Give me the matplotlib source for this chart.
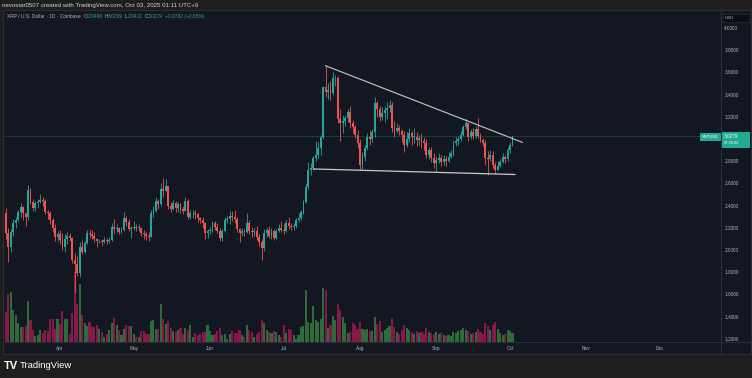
import numpy as np
import pandas as pd
import matplotlib
matplotlib.use("Agg")
from matplotlib import pyplot as plt
import matplotlib.dates as mdates
from matplotlib.patches import Rectangle
from matplotlib.lines import Line2D

plt.rcParams['font.family'] = ['Liberation Sans', 'DejaVu Sans']

## Data (XRP/USD daily) ##
start_date = '2025-03-10'
first_open = 2.33

closes_mar = [2.15, 2.03, 2.16, 2.24, 2.27, 2.34, 2.39, 2.33, 2.30, 2.54, 2.43, 2.38, 2.42, 2.43, 2.45, 2.44, 2.34, 2.33, 2.27, 2.20, 2.12, 2.14]
closes_apr = [2.09, 2.03, 2.10, 2.13, 2.11, 1.91, 1.87, 1.79, 2.03, 1.98, 2.06, 2.15, 2.14, 2.13, 2.10, 2.08, 2.08, 2.07, 2.09, 2.08, 2.09, 2.21, 2.19, 2.20, 2.16, 2.18, 2.29, 2.25, 2.19, 2.20]
closes_may = [2.21, 2.20, 2.20, 2.15, 2.14, 2.13, 2.12, 2.33, 2.35, 2.44, 2.41, 2.55, 2.53, 2.58, 2.40, 2.37, 2.42, 2.38, 2.41, 2.37, 2.35, 2.44, 2.30, 2.33, 2.33, 2.32, 2.29, 2.27, 2.24, 2.15, 2.17]
closes_jun = [2.18, 2.24, 2.21, 2.17, 2.11, 2.17, 2.27, 2.28, 2.31, 2.30, 2.28, 2.19, 2.15, 2.17, 2.16, 2.24, 2.17, 2.16, 2.17, 2.12, 2.07, 2.02, 2.15, 2.18, 2.13, 2.17, 2.11, 2.17, 2.20, 2.18]
closes_jul = [2.17, 2.24, 2.22, 2.21, 2.22, 2.27, 2.29, 2.34, 2.43, 2.57, 2.72, 2.74, 2.83, 2.86, 2.92, 3.02, 3.47, 3.42, 3.44, 3.41, 3.55, 3.55, 3.18, 3.14, 3.16, 3.19, 3.24, 3.14, 3.11, 3.04, 2.96]
closes_aug = [2.77, 2.84, 2.92, 3.02, 3.00, 3.06, 3.32, 3.27, 3.20, 3.23, 3.26, 3.28, 3.31, 3.10, 3.07, 3.10, 3.07, 3.04, 2.95, 3.00, 3.05, 3.02, 3.02, 2.99, 3.01, 2.98, 2.96, 2.86, 2.90, 2.83, 2.78]
closes_sep = [2.81, 2.83, 2.79, 2.82, 2.80, 2.84, 2.87, 2.96, 2.98, 3.00, 3.04, 3.11, 3.14, 3.02, 3.06, 3.03, 3.09, 3.03, 2.99, 2.96, 2.83, 2.82, 2.86, 2.77, 2.72, 2.76, 2.79, 2.84, 2.82, 2.90]
closes_oct = [2.9496, 3.0279]

highs_mar = [2.38, 2.20, 2.19, 2.28, 2.30, 2.36, 2.42, 2.40, 2.33, 2.59, 2.56, 2.46, 2.44, 2.46, 2.50, 2.48, 2.46, 2.36, 2.35, 2.29, 2.23, 2.17]
highs_apr = [2.18, 2.15, 2.14, 2.16, 2.15, 2.12, 1.97, 1.95, 2.07, 2.09, 2.08, 2.18, 2.19, 2.18, 2.16, 2.11, 2.10, 2.10, 2.12, 2.11, 2.12, 2.24, 2.28, 2.23, 2.21, 2.21, 2.34, 2.31, 2.28, 2.22]
highs_may = [2.26, 2.23, 2.23, 2.21, 2.18, 2.16, 2.16, 2.36, 2.40, 2.48, 2.46, 2.60, 2.65, 2.64, 2.58, 2.43, 2.45, 2.44, 2.43, 2.42, 2.40, 2.48, 2.46, 2.36, 2.36, 2.36, 2.33, 2.30, 2.30, 2.25, 2.19]
highs_jun = [2.21, 2.26, 2.26, 2.24, 2.20, 2.19, 2.30, 2.31, 2.35, 2.35, 2.36, 2.30, 2.20, 2.20, 2.19, 2.33, 2.27, 2.21, 2.20, 2.22, 2.14, 2.10, 2.19, 2.21, 2.22, 2.20, 2.19, 2.19, 2.23, 2.26]
highs_jul = [2.24, 2.27, 2.30, 2.24, 2.24, 2.29, 2.33, 2.36, 2.45, 2.60, 2.79, 2.78, 2.85, 2.98, 2.97, 3.04, 3.48, 3.66, 3.50, 3.52, 3.60, 3.58, 3.57, 3.27, 3.22, 3.21, 3.27, 3.30, 3.17, 3.13, 3.08]
highs_aug = [3.00, 2.88, 2.95, 3.05, 3.08, 3.09, 3.38, 3.34, 3.30, 3.29, 3.30, 3.33, 3.35, 3.33, 3.16, 3.14, 3.13, 3.09, 3.07, 3.06, 3.10, 3.07, 3.10, 3.06, 3.04, 3.05, 3.02, 3.00, 2.93, 2.93, 2.87]
highs_sep = [2.85, 2.87, 2.86, 2.86, 2.85, 2.88, 2.90, 2.99, 3.02, 3.03, 3.07, 3.13, 3.19, 3.14, 3.09, 3.10, 3.12, 3.19, 3.05, 3.01, 2.99, 2.89, 2.90, 2.89, 2.79, 2.80, 2.82, 2.87, 2.86, 2.93]
highs_oct = [2.97, 3.0299]

lows_mar = [2.10, 1.89, 1.98, 2.13, 2.20, 2.26, 2.30, 2.27, 2.22, 2.27, 2.41, 2.35, 2.35, 2.38, 2.42, 2.40, 2.32, 2.28, 2.23, 2.16, 2.08, 2.08]
lows_apr = [2.05, 2.00, 1.98, 2.05, 2.08, 1.88, 1.61, 1.77, 1.76, 1.96, 1.97, 2.05, 2.11, 2.10, 2.07, 2.03, 2.06, 2.04, 2.06, 2.05, 2.06, 2.08, 2.15, 2.16, 2.14, 2.15, 2.17, 2.22, 2.17, 2.11]
lows_may = [2.18, 2.17, 2.17, 2.13, 2.10, 2.09, 2.08, 2.12, 2.30, 2.34, 2.37, 2.40, 2.48, 2.53, 2.37, 2.34, 2.36, 2.34, 2.34, 2.33, 2.32, 2.35, 2.28, 2.28, 2.29, 2.28, 2.25, 2.24, 2.20, 2.10, 2.11]
lows_jun = [2.14, 2.16, 2.18, 2.15, 2.08, 2.08, 2.16, 2.24, 2.23, 2.26, 2.24, 2.16, 2.07, 2.13, 2.13, 2.15, 2.14, 2.12, 2.13, 2.09, 2.04, 1.91, 1.99, 2.12, 2.11, 2.10, 2.09, 2.10, 2.16, 2.16]
lows_jul = [2.14, 2.16, 2.19, 2.18, 2.18, 2.20, 2.25, 2.27, 2.32, 2.42, 2.55, 2.68, 2.72, 2.80, 2.82, 2.86, 3.00, 3.38, 3.36, 3.35, 3.40, 3.48, 3.14, 2.98, 3.05, 3.12, 3.15, 3.10, 3.05, 3.01, 2.92]
lows_aug = [2.72, 2.73, 2.80, 2.90, 2.95, 2.97, 3.02, 3.20, 3.16, 3.17, 3.15, 3.18, 3.24, 3.06, 3.02, 3.05, 3.04, 2.97, 2.88, 2.93, 2.97, 2.95, 2.96, 2.94, 2.95, 2.92, 2.90, 2.83, 2.82, 2.79, 2.74]
lows_sep = [2.70, 2.78, 2.76, 2.77, 2.76, 2.79, 2.83, 2.85, 2.94, 2.95, 2.98, 3.03, 3.09, 2.98, 3.00, 3.00, 3.01, 3.01, 2.97, 2.94, 2.77, 2.68, 2.80, 2.74, 2.69, 2.72, 2.75, 2.78, 2.78, 2.80]
lows_oct = [2.87, 2.9411]

# volume, relative units
volume_mar = [30, 48, 50, 32, 27, 19, 15, 15, 16, 41, 22, 12, 6, 7, 12, 9, 12, 11, 23, 23, 13, 23]
volume_apr = [18, 31, 23, 23, 8, 29, 70, 38, 58, 27, 19, 16, 20, 15, 15, 17, 13, 10, 5, 8, 12, 19, 24, 17, 12, 7, 13, 17, 16, 16]
volume_may = [8, 5, 5, 11, 11, 8, 8, 21, 22, 13, 13, 38, 23, 18, 21, 14, 11, 10, 12, 14, 8, 14, 12, 17, 5, 9, 7, 8, 10, 10, 17]
volume_jun = [11, 7, 8, 11, 14, 7, 8, 3, 8, 11, 9, 9, 12, 7, 5, 17, 12, 10, 5, 8, 10, 22, 19, 12, 10, 9, 11, 10, 7, 5]
volume_jul = [17, 9, 13, 12, 7, 3, 7, 15, 16, 52, 20, 19, 36, 22, 20, 23, 54, 52, 14, 17, 26, 22, 38, 32, 25, 19, 9, 10, 19, 17, 13]
volume_aug = [20, 13, 12, 13, 11, 11, 25, 18, 21, 10, 12, 14, 16, 24, 15, 10, 8, 12, 17, 14, 12, 10, 8, 11, 9, 10, 8, 14, 10, 9, 8]
volume_sep = [10, 8, 9, 7, 6, 7, 6, 10, 9, 11, 12, 14, 12, 11, 8, 9, 10, 13, 10, 8, 19, 16, 12, 17, 20, 13, 9, 7, 8, 12]
volume_oct = [11, 9]

# trendlines drawn on the chart
upper_line_dates = ['2025-07-18', '2025-10-06']
upper_line_prices = [3.66, 2.97]
lower_line_dates = ['2025-07-13', '2025-10-03']
lower_line_prices = [2.73, 2.68]

price_ticks = [1.2, 1.4, 1.6, 1.8, 2.0, 2.2, 2.4, 2.6, 2.8, 3.2, 3.4, 3.6, 3.8, 4.0]
last_price = 3.0279

closes = np.array(closes_mar + closes_apr + closes_may + closes_jun + closes_jul + closes_aug + closes_sep + closes_oct)
highs = np.array(highs_mar + highs_apr + highs_may + highs_jun + highs_jul + highs_aug + highs_sep + highs_oct)
lows = np.array(lows_mar + lows_apr + lows_may + lows_jun + lows_jul + lows_aug + lows_sep + lows_oct)
volume = np.array(volume_mar + volume_apr + volume_may + volume_jun + volume_jul + volume_aug + volume_sep + volume_oct)
opens = np.concatenate([[first_open], closes[:-1]])
highs = np.maximum(highs, np.maximum(opens, closes))
lows = np.minimum(lows, np.minimum(opens, closes))
dates = pd.date_range(start_date, periods=len(closes))
up = closes >= opens

## Figure ##
W, H = 752, 378
BG = '#1e1e1e'
PANE = '#131722'
BORDER = '#2a2e39'
TXT = '#b2b5be'
UP, DOWN = '#26a69a', '#ef5350'

def fx(px):
    return px / W

def fy(py):
    return 1 - py / H

fig = plt.figure(figsize=(W / 100, H / 100), dpi=100, facecolor=BG)

# chart frame
frame = fig.add_axes([fx(3), fy(354), fx(751) - fx(3), fy(10) - fy(354)])
frame.set_facecolor(PANE)
frame.set_xticks([])
frame.set_yticks([])
for s in frame.spines.values():
    s.set_color(BORDER)
    s.set_linewidth(0.8)
fig.add_artist(Line2D([fx(721), fx(721)], [fy(10), fy(354)], color=BORDER, lw=0.8))
fig.add_artist(Line2D([fx(3), fx(751)], [fy(342), fy(342)], color=BORDER, lw=0.8))

rect = [fx(4), fy(342), fx(721) - fx(4), fy(11) - fy(342)]
x0 = dates[0] - pd.Timedelta(days=0.77)
x1 = dates[0] + pd.Timedelta(days=290.8)

# volume pane
axv = fig.add_axes(rect)
axv.set_facecolor('none')
vcol = np.where(up, '#2f6b38', '#86184a')
axv.bar(dates, volume, width=0.85, color=vcol, linewidth=0)
axv.set_ylim(0, 331)
axv.set_xlim(x0, x1)
axv.axis('off')

# price pane
ax = fig.add_axes(rect, sharex=axv)
ax.set_facecolor('none')
for s in ax.spines.values():
    s.set_visible(False)
ccol = np.where(up, UP, DOWN)
ax.vlines(dates, lows, highs, colors=ccol, lw=0.6)
body_lo = np.minimum(opens, closes)
body_h = np.maximum(np.abs(closes - opens), 0.004)
ax.bar(dates, body_h, bottom=body_lo, width=0.75, color=ccol, linewidth=0)

ax.plot(pd.to_datetime(upper_line_dates), upper_line_prices, color='#c9c9c9', lw=0.8)
ax.plot(pd.to_datetime(lower_line_dates), lower_line_prices, color='#c9c9c9', lw=0.9)
ax.axhline(last_price, color=UP, lw=0.5, alpha=0.6, ls=(0, (1.5, 1)))

ax.set_ylim(4.0 - 314 / 111, 4.0 + 17 / 111)
ax.set_xlim(x0, x1)
ax.yaxis.tick_right()
ax.set_yticks(price_ticks)
ax.set_yticklabels([f'{p:.4f}' for p in price_ticks])
ax.xaxis.set_major_locator(mdates.MonthLocator())
ax.xaxis.set_major_formatter(mdates.DateFormatter('%b'))
ax.tick_params(axis='y', length=0, pad=2.4, labelsize=3.4, labelcolor=TXT)
ax.tick_params(axis='x', length=0, pad=2.6, labelsize=3.4, labelcolor=TXT)

# last price labels
fig.patches.append(Rectangle((fx(700), fy(141)), fx(721) - fx(700), fy(133) - fy(141),
                             transform=fig.transFigure, fc='#22ab94', ec='none', zorder=5))
fig.text(fx(710.5), fy(137), 'XRPUSD', color='white', fontsize=2.9, ha='center', va='center', zorder=6)
fig.patches.append(Rectangle((fx(722), fy(148)), fx(750) - fx(722), fy(132) - fy(148),
                             transform=fig.transFigure, fc='#22ab94', ec='none', zorder=5))
fig.text(fx(724), fy(136.5), f'{last_price:.4f}', color='white', fontsize=3.4, va='center', zorder=6)
fig.text(fx(724), fy(143.5), '07:48:06', color='#e0f2ef', fontsize=2.9, va='center', zorder=6)

# currency box
fig.patches.append(Rectangle((fx(723), fy(22)), fx(749) - fx(723), fy(14) - fy(22),
                             transform=fig.transFigure, fc='#0b0d14', ec=BORDER, lw=0.4, zorder=5))
fig.text(fx(725), fy(18), 'USD', color=TXT, fontsize=3.2, va='center', zorder=6)

# header texts
fig.text(fx(2), fy(5), 'nevostar0507 created with TradingView.com, Oct 03, 2025 01:11 UTC+9',
         color='#d1d4dc', fontsize=4.4, va='center')

renderer = fig.canvas.get_renderer()
parts = [('XRP / U.S. Dollar · 1D · Coinbase', TXT, 3.0),
         ('O', TXT, 0), ('2.9496', UP, 2.0),
         ('H', TXT, 0), ('3.0299', UP, 2.0),
         ('L', TXT, 0), ('2.9411', UP, 2.0),
         ('C', TXT, 0), ('3.0279', UP, 2.0),
         ('+0.0782 (+2.65%)', UP, 0)]
xpos = 7
for s, c, gap in parts:
    t = fig.text(fx(xpos), fy(16.5), s, color=c, fontsize=3.5, va='center')
    xpos += t.get_window_extent(renderer).width + gap

# footer logo
fig.text(fx(4), fy(366), 'TV', color='white', fontsize=8, fontweight='bold', va='center')
fig.text(fx(20), fy(366), 'TradingView', color='white', fontsize=6.8, va='center')

fig.savefig('out.png', dpi=100, facecolor=BG)
